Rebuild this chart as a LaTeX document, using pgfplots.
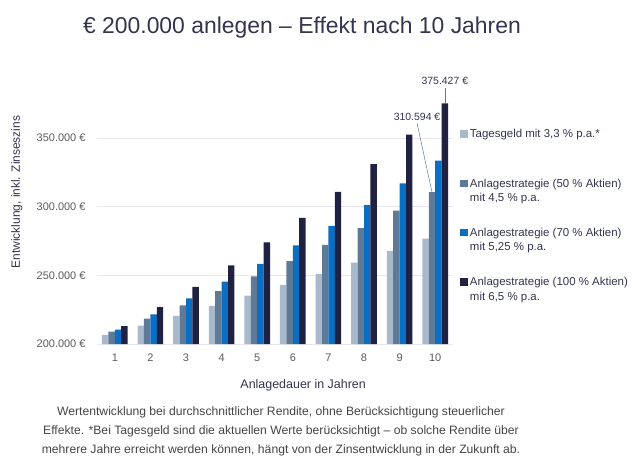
\documentclass[border=0pt]{standalone}
\usepackage{pgfplots}
\pgfplotsset{compat=1.18}
\usepackage{fontspec}
\setmainfont{Liberation Sans}
\definecolor{c1}{HTML}{A9B9CC}
\definecolor{c2}{HTML}{5E7A97}
\definecolor{c3}{HTML}{0A6FC2}
\definecolor{c4}{HTML}{1F2142}
\definecolor{gridc}{HTML}{E6E6F2}
\definecolor{titlec}{HTML}{33344F}
\definecolor{tickc}{HTML}{5A5A5A}
\definecolor{footc}{HTML}{444444}
\begin{document}
\begin{tikzpicture}[x=1bp,y=1bp]
\path[use as bounding box] (0,0) rectangle (640,-469);
\node[font=\fontsize{23}{28}\selectfont, text=titlec] at (302,-28) {€ 200.000 anlegen – Effekt nach 10 Jahren};
\begin{axis}[
  at={(97bp,-344bp)}, anchor=south west, scale only axis,
  width=356bp, height=247bp,
  xmin=0.5, xmax=10.5, ymin=200000, ymax=380000,
  clip=false,
  scaled y ticks=false,
  axis line style={draw=none},
  major tick length=0pt,
  xtick={1,2,3,4,5,6,7,8,9,10},
  xticklabels={1,2,3,4,5,6,7,8,9,10},
  ytick={200000,250000,300000,350000},
  yticklabels={{200.000 €},{250.000 €},{300.000 €},{350.000 €}},
  ymajorgrids, grid style={gridc, line width=1pt},
  tick label style={font=\fontsize{11}{13}\selectfont, text=tickc},
  xticklabel style={yshift=-6bp},
  yticklabel style={xshift=-8bp},
  xlabel={Anlagedauer in Jahren},
  xlabel style={font=\fontsize{12.5}{15}\selectfont, text=titlec, at={(axis description cs:0.579,-0.166)}, anchor=center},
  ylabel={Entwicklung, inkl. Zinseszins},
  ylabel style={font=\fontsize{12}{15}\selectfont, text=titlec, at={(axis description cs:-0.225,0.615)}, anchor=center},
  legend style={at={(axis description cs:1.012,0.885)}, anchor=north west, draw=none, fill=none,
    font=\fontsize{11.5}{14.5}\selectfont, text=titlec, row sep=21bp,
    nodes={align=left, anchor=base west}},
  legend cell align=left,
  legend image code/.code={\fill[#1] (0bp,14.5bp) rectangle (7.5bp,22bp);},
]
\addplot[fill=c1, draw=none, ybar, bar width=0.18, bar shift=-0.27] coordinates {
(1,206600) (2,213418) (3,220461) (4,227736) (5,235251) (6,243014) (7,251034) (8,259318) (9,267875) (10,276715)};
\addlegendentry{Tagesgeld mit 3,3 \% p.a.*\\\strut}
\addplot[fill=c2, draw=none, ybar, bar width=0.18, bar shift=-0.09] coordinates {
(1,209000) (2,218405) (3,228233) (4,238504) (5,249236) (6,260452) (7,272172) (8,284420) (9,297219) (10,310594)};
\addlegendentry{Anlagestrategie (50 \% Aktien)\\mit 4,5 \% p.a.}
\addplot[fill=c3, draw=none, ybar, bar width=0.18, bar shift=0.09] coordinates {
(1,210500) (2,221551) (3,233183) (4,245425) (5,258310) (6,271871) (7,286144) (8,301167) (9,316978) (10,333619)};
\addlegendentry{Anlagestrategie (70 \% Aktien)\\mit 5,25 \% p.a.}
\addplot[fill=c4, draw=none, ybar, bar width=0.18, bar shift=0.27] coordinates {
(1,213000) (2,226845) (3,241590) (4,257293) (5,274017) (6,291829) (7,310797) (8,330999) (9,352514) (10,375427)};
\addlegendentry{Anlagestrategie (100 \% Aktien)\\mit 6,5 \% p.a.}
\draw[c2, line width=0.5pt] (axis cs:10.27,375427) -- (axis cs:10.27,386400);
\node[font=\fontsize{10.5}{12}\selectfont, text=titlec] at (axis cs:10.27,391500) {375.427 €};
\draw[c2, line width=0.5pt] (axis cs:9.49,360900) -- (axis cs:9.91,310594);
\node[font=\fontsize{10.5}{12}\selectfont, text=titlec] at (axis cs:9.49,365300) {310.594 €};
\end{axis}
\node[font=\fontsize{12.2}{19}\selectfont, text=footc, align=center] at (281,-431) {Wertentwicklung bei durchschnittlicher Rendite, ohne Berücksichtigung steuerlicher\\Effekte. *Bei Tagesgeld sind die aktuellen Werte berücksichtigt – ob solche Rendite über\\mehrere Jahre erreicht werden können, hängt von der Zinsentwicklung in der Zukunft ab.};
\end{tikzpicture}
\end{document}
